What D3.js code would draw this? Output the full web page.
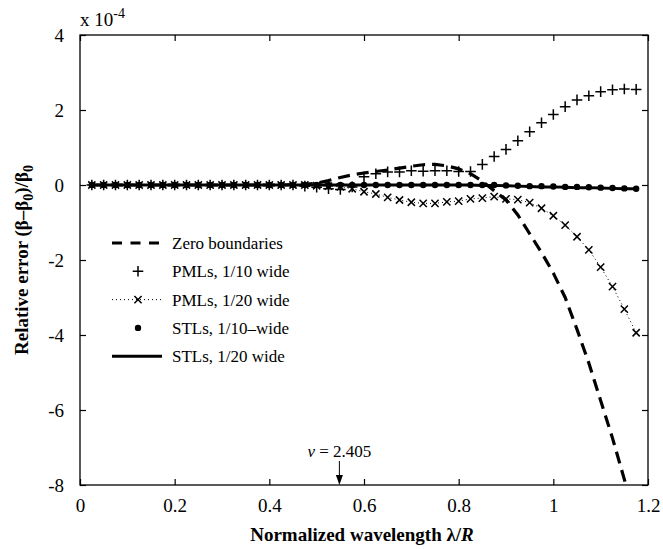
<!DOCTYPE html>
<html>
<head>
<meta charset="utf-8">
<script src="https://cdn.jsdelivr.net/npm/d3@7"></script>
<style>
  body { margin: 0; background: #fff; }
  svg, svg text { font-family: "Liberation Serif", "Times New Roman", Tinos, "DejaVu Serif", serif; }
</style>
</head>
<body>
<svg width="663" height="549"></svg>
<script>
// normalized wavelength lambda/R (sample points)
var xs = [0.025,0.05,0.075,0.1,0.125,0.15,0.175,0.2,0.225,0.25,0.275,0.3,0.325,0.35,0.375,0.4,
          0.425,0.45,0.475,0.5,0.525,0.55,0.575,0.6,0.625,0.65,0.675,0.7,0.725,0.75,0.775,0.8,
          0.825,0.85,0.875,0.9,0.925,0.95,0.975,1.0,1.025,1.05,1.075,1.1,1.125,1.15,1.175];

// relative error, units of 1e-4
var zeroBoundaries = [0,0,0,0,0,0,0,0,0,0,0,0,0,0,0,0,
                      0,0.01,0.02,0.05,0.12,0.2,0.27,0.32,0.36,0.4,0.45,0.5,0.54,0.55,0.51,0.43,
                      0.3,0.1,-0.15,-0.4,-0.8,-1.3,-1.8,-2.35,-3.0,-3.85,-4.75,-5.75,-6.75,-7.85,-9.0];
var pml10 = [0,0,0,0,0,0,0,0,0,0,0,0,0,0,0,0,
             0,0,-0.03,-0.06,-0.1,-0.12,-0.05,0.22,0.3,0.35,0.35,0.38,0.37,0.38,0.38,0.36,
             0.36,0.55,0.76,0.95,1.18,1.42,1.66,1.88,2.09,2.27,2.38,2.49,2.54,2.56,2.55];
var pml20 = [0,0,0,0,0,0,0,0,0,0,0,0,0,0,0,0,
             0,0,0,-0.02,-0.03,-0.05,-0.1,-0.18,-0.24,-0.33,-0.4,-0.46,-0.49,-0.49,-0.45,-0.43,
             -0.37,-0.35,-0.31,-0.37,-0.39,-0.47,-0.62,-0.82,-1.07,-1.38,-1.73,-2.19,-2.71,-3.31,-3.94];
var stl10 = [0,0,0,0,0,0,0,0,0,0,0,0,0,0,0,0,
             0,0,0,0,0,0,0,0,0,0,0,0,0,0,0,0,
             0,0,0,-0.01,-0.02,-0.03,-0.03,-0.04,-0.05,-0.05,-0.06,-0.07,-0.08,-0.09,-0.1];
var stl20 = [0,0,0,0,0,0,0,0,0,0,0,0,0,0,0,0,
             0,0,0,0,0,0,0,0,0,0,0,0,0,0,0,0,
             0,-0.01,-0.01,-0.02,-0.03,-0.04,-0.05,-0.05,-0.06,-0.07,-0.07,-0.08,-0.09,-0.1,-0.1];

var xTicks = [0, 0.2, 0.4, 0.6, 0.8, 1, 1.2];
var yTicks = [4, 2, 0, -2, -4, -6, -8];
var legendLabels = ["Zero boundaries", "PMLs, 1/10 wide", "PMLs, 1/20 wide", "STLs, 1/10\u2013wide", "STLs, 1/20 wide"];
var markerX = 0.548, markerText = "2.405";

var FONT = "Liberation Serif, Times New Roman, Tinos, DejaVu Serif, serif";

var svg = d3.select("svg").attr("font-family", FONT),
    L = 80, R = 648, T = 35, B = 485,
    x = d3.scaleLinear().domain([0, 1.2]).range([L, R]),
    y = d3.scaleLinear().domain([-8, 4]).range([B, T]);

svg.append("defs").append("clipPath").attr("id", "clip")
  .append("rect").attr("x", L).attr("y", T).attr("width", R - L).attr("height", B - T);

function pts(vals) { return xs.map(function(d, i) { return [d, vals[i]]; }); }
var line = d3.line().x(function(d) { return x(d[0]); }).y(function(d) { return y(d[1]); });

function plusPath(s) { return "M" + (-s) + ",0H" + s + "M0," + (-s) + "V" + s; }
function timesPath(s) { return "M" + (-s) + "," + (-s) + "L" + s + "," + s + "M" + (-s) + "," + s + "L" + s + "," + (-s); }
function fmt(d) { return String(d); }

var g = svg.append("g").attr("clip-path", "url(#clip)");

// STLs 1/20 solid
g.append("path").attr("d", line(pts(stl20)))
  .attr("fill", "none").attr("stroke", "#000").attr("stroke-width", 3);

// STLs 1/10 dots
g.selectAll(".dot").data(pts(stl10)).enter().append("circle")
  .attr("cx", function(d) { return x(d[0]); }).attr("cy", function(d) { return y(d[1]); })
  .attr("r", 3.2).attr("fill", "#000");

// PMLs 1/20 dotted + x
g.append("path").attr("d", line(pts(pml20)))
  .attr("fill", "none").attr("stroke", "#000").attr("stroke-width", 1).attr("stroke-dasharray", "1,3");
g.selectAll(".tm").data(pts(pml20)).enter().append("path")
  .attr("transform", function(d) { return "translate(" + x(d[0]) + "," + y(d[1]) + ")"; })
  .attr("d", timesPath(3.6)).attr("stroke", "#000").attr("stroke-width", 1.5).attr("fill", "none");

// PMLs 1/10 +
g.selectAll(".pm").data(pts(pml10)).enter().append("path")
  .attr("transform", function(d) { return "translate(" + x(d[0]) + "," + y(d[1]) + ")"; })
  .attr("d", plusPath(5.3)).attr("stroke", "#000").attr("stroke-width", 1.5).attr("fill", "none");

// Zero boundaries dashed
g.append("path").attr("d", line(pts(zeroBoundaries)))
  .attr("fill", "none").attr("stroke", "#000").attr("stroke-width", 3.2).attr("stroke-dasharray", "12,7");

// frame + ticks
svg.append("rect").attr("x", L).attr("y", T).attr("width", R - L).attr("height", B - T)
  .attr("fill", "none").attr("stroke", "#000").attr("stroke-width", 1.3);

svg.append("g").attr("transform", "translate(0," + B + ")")
  .call(d3.axisBottom(x).tickValues(xTicks).tickSizeInner(-6).tickSizeOuter(0).tickPadding(14).tickFormat(fmt))
  .call(function(a) { a.select(".domain").remove(); });
svg.append("g").attr("transform", "translate(0," + T + ")")
  .call(d3.axisTop(x).tickValues(xTicks).tickSizeInner(-6).tickSizeOuter(0).tickFormat(""))
  .call(function(a) { a.select(".domain").remove(); });
svg.append("g").attr("transform", "translate(" + L + ",0)")
  .call(d3.axisLeft(y).tickValues(yTicks).tickSizeInner(-6).tickSizeOuter(0).tickPadding(16).tickFormat(fmt))
  .call(function(a) { a.select(".domain").remove(); });
svg.append("g").attr("transform", "translate(" + R + ",0)")
  .call(d3.axisRight(y).tickValues(yTicks).tickSizeInner(-6).tickSizeOuter(0).tickFormat(""))
  .call(function(a) { a.select(".domain").remove(); });

svg.selectAll("g").attr("font-family", FONT);
svg.selectAll(".tick text").attr("font-size", 19).attr("fill", "#000");
svg.selectAll(".tick line").attr("stroke", "#000").attr("stroke-width", 1.2);

// exponent label
var ex = svg.append("text").attr("x", 80).attr("y", 26).attr("font-size", 19);
ex.append("tspan").text("x 10");
ex.append("tspan").attr("dy", -8).attr("font-size", 14).text("-4");

// axis titles
var xl = svg.append("text").attr("x", 362).attr("y", 541).attr("text-anchor", "middle")
  .attr("font-size", 19).attr("font-weight", "bold");
xl.append("tspan").text("Normalized wavelength \u03bb/");
xl.append("tspan").attr("font-style", "italic").text("R");

var yl = svg.append("text").attr("transform", "translate(28," + ((T + B) / 2) + ") rotate(-90)")
  .attr("text-anchor", "middle").attr("font-size", 19).attr("font-weight", "bold");
yl.append("tspan").text("Relative error (\u03b2\u2013\u03b2");
yl.append("tspan").attr("dy", 5).attr("font-size", 14).text("0");
yl.append("tspan").attr("dy", -5).text(")/\u03b2");
yl.append("tspan").attr("dy", 5).attr("font-size", 14).text("0");

// v = 2.405 annotation
var ann = svg.append("text").attr("x", x(markerX)).attr("y", 457).attr("text-anchor", "middle").attr("font-size", 17);
ann.append("tspan").attr("font-style", "italic").text("v");
ann.append("tspan").text(" = " + markerText);
svg.append("line").attr("x1", x(markerX)).attr("x2", x(markerX)).attr("y1", 461).attr("y2", 478)
  .attr("stroke", "#000").attr("stroke-width", 1);
svg.append("path").attr("d", "M" + (x(markerX) - 3.5) + ",475L" + x(markerX) + ",485L" + (x(markerX) + 3.5) + ",475Z")
  .attr("fill", "#000");

// legend
var lg = svg.append("g"), lx0 = 112, lx1 = 162, lxm = 138, ly0 = 243, ldy = 28.3;
legendLabels.forEach(function(lab, i) {
  var yy = ly0 + i * ldy;
  lg.append("text").attr("x", 172).attr("y", yy + 6).attr("font-size", 17).text(lab);
  if (i === 0) lg.append("line").attr("x1", lx0).attr("x2", lx1).attr("y1", yy).attr("y2", yy)
      .attr("stroke", "#000").attr("stroke-width", 3.2).attr("stroke-dasharray", "10,8.5");
  if (i === 1) lg.append("path").attr("transform", "translate(" + lxm + "," + yy + ")")
      .attr("d", plusPath(5.3)).attr("stroke", "#000").attr("stroke-width", 1.5);
  if (i === 2) {
    lg.append("line").attr("x1", lx0).attr("x2", lx1).attr("y1", yy).attr("y2", yy)
      .attr("stroke", "#000").attr("stroke-width", 1).attr("stroke-dasharray", "1,3");
    lg.append("path").attr("transform", "translate(" + lxm + "," + yy + ")")
      .attr("d", timesPath(3.6)).attr("stroke", "#000").attr("stroke-width", 1.5);
  }
  if (i === 3) lg.append("circle").attr("cx", lxm).attr("cy", yy).attr("r", 3.2).attr("fill", "#000");
  if (i === 4) lg.append("line").attr("x1", lx0).attr("x2", lx1).attr("y1", yy).attr("y2", yy)
      .attr("stroke", "#000").attr("stroke-width", 3);
});
</script>
</body>
</html>
